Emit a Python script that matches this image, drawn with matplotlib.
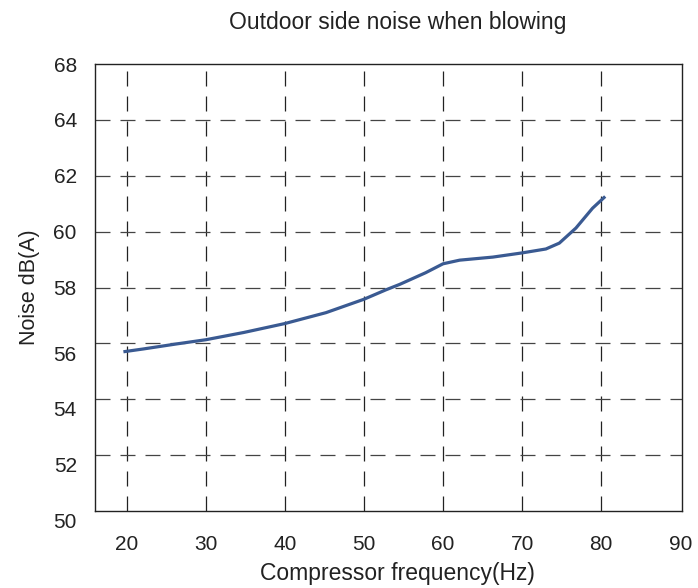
import numpy as np
import matplotlib
matplotlib.use("Agg")
import matplotlib.pyplot as plt
from matplotlib.transforms import ScaledTranslation

# values
freq = [19.6, 22.1, 26.3, 30.0, 34.8, 40.0, 45.2, 50.0, 52.8, 54.5, 57.8,
        60.0, 62.1, 66.3, 70.0, 73.0, 74.7, 76.8, 78.9, 80.5]
noise = [55.70, 55.80, 55.98, 56.13, 56.39, 56.71, 57.10, 57.58, 57.92, 58.11, 58.53,
         58.85, 58.98, 59.09, 59.24, 59.38, 59.59, 60.13, 60.84, 61.26]

x_ticks = [20, 30, 40, 50, 60, 70, 80, 90]
y_ticks = [50, 52, 54, 56, 58, 60, 62, 64, 66]
y_tick_labels = ["50", "52", "54", "56", "58", "60", "62", "64", "68"]

plt.rcParams["font.family"] = ["Liberation Sans", "DejaVu Sans"]

fig = plt.figure(figsize=(6.98, 5.88), dpi=100)
ax = fig.add_axes([0.136, 0.131, 0.841, 0.760])

ax.plot(freq, noise, color="#3a5a92", lw=2.3, solid_capstyle="butt",
        solid_joinstyle="round")

ax.set_xlim(16, 90.2)
ax.set_ylim(50, 66)
ax.set_xticks(x_ticks)
ax.set_yticks(y_ticks)
ax.set_yticklabels(y_tick_labels)
ax.tick_params(length=0, labelsize=15, colors="#222222")
ax.tick_params(axis="x", pad=17)
ax.tick_params(axis="y", pad=13)

# the lower y labels sit a little below their grid lines in the original
for lab in ax.get_yticklabels()[:4]:
    lab.set_transform(lab.get_transform() + ScaledTranslation(0, -7 / 72, fig.dpi_scale_trans))

# dashed grid, skipping the 90 line (it sits on the frame)
for xv in x_ticks[:-1]:
    ax.axvline(xv, color="#222222", lw=0.9, ls=(0, (12, 8)), zorder=0)
for yv in y_ticks[1:-1]:
    ax.axhline(yv, color="#444444", lw=0.9, ls=(0, (12, 8)), zorder=0)

for s in ax.spines.values():
    s.set_color("#222222")
    s.set_linewidth(1.0)

ax.set_xlabel("Compressor frequency(Hz)", fontsize=16.5, color="#222222", labelpad=6)
ax.xaxis.label.set_x(0.515)
ax.set_ylabel("Noise dB(A)", fontsize=15.5, color="#222222", labelpad=10)
fig.text(0.57, 0.962, "Outdoor side noise when blowing", ha="center", va="center",
         fontsize=16.5, color="#222222")

fig.savefig("out.png", dpi=100)
